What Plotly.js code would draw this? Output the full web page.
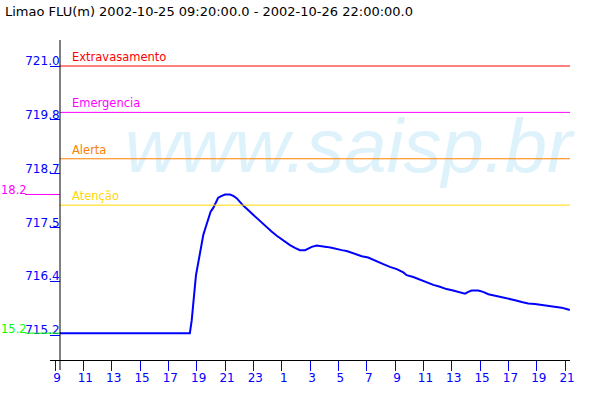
<!DOCTYPE html>
<html>
<head>
<meta charset="utf-8">
<script src="https://cdn.plot.ly/plotly-3.0.1.min.js"></script>
<style>html,body{margin:0;padding:0;background:#fff;}#chart{width:600px;height:400px;}</style>
</head>
<body>
<div id="chart"></div>
<script>
// ---- data ----
const times = [
  "2002-10-25 09:20","2002-10-25 10:00","2002-10-25 11:00","2002-10-25 12:00","2002-10-25 13:00",
  "2002-10-25 14:00","2002-10-25 15:00","2002-10-25 16:00","2002-10-25 17:00","2002-10-25 18:00",
  "2002-10-25 18:31","2002-10-25 18:39","2002-10-25 18:46","2002-10-25 18:53","2002-10-25 18:57",
  "2002-10-25 19:07","2002-10-25 19:14","2002-10-25 19:21","2002-10-25 19:28","2002-10-25 19:39",
  "2002-10-25 19:49","2002-10-25 19:59","2002-10-25 20:10","2002-10-25 20:22","2002-10-25 20:31",
  "2002-10-25 20:46","2002-10-25 21:00","2002-10-25 21:21","2002-10-25 21:35","2002-10-25 21:49",
  "2002-10-25 22:03","2002-10-25 22:17","2002-10-25 22:32","2002-10-25 22:53","2002-10-25 23:14",
  "2002-10-25 23:35","2002-10-25 23:56","2002-10-26 00:17","2002-10-26 00:39","2002-10-26 00:53",
  "2002-10-26 01:14","2002-10-26 01:35","2002-10-26 01:56","2002-10-26 02:17","2002-10-26 02:39",
  "2002-10-26 02:52","2002-10-26 03:07","2002-10-26 03:28","2002-10-26 03:49","2002-10-26 04:10",
  "2002-10-26 04:31","2002-10-26 04:53","2002-10-26 05:14","2002-10-26 05:35","2002-10-26 05:56",
  "2002-10-26 06:17","2002-10-26 06:39","2002-10-26 07:06","2002-10-26 07:42","2002-10-26 08:10",
  "2002-10-26 08:38","2002-10-26 09:07","2002-10-26 09:35","2002-10-26 09:49","2002-10-26 10:17",
  "2002-10-26 10:45","2002-10-26 11:14","2002-10-26 11:42","2002-10-26 12:10","2002-10-26 12:38",
  "2002-10-26 13:06","2002-10-26 13:35","2002-10-26 13:56","2002-10-26 14:10","2002-10-26 14:24",
  "2002-10-26 14:52","2002-10-26 15:13","2002-10-26 15:35","2002-10-26 16:03","2002-10-26 16:31",
  "2002-10-26 16:59","2002-10-26 17:28","2002-10-26 17:56","2002-10-26 18:24","2002-10-26 18:52",
  "2002-10-26 19:21","2002-10-26 19:49","2002-10-26 20:17","2002-10-26 20:45","2002-10-26 21:13",
  "2002-10-26 21:20"
];
const levels = [
  715.24,715.24,715.24,715.24,715.24,
  715.24,715.24,715.24,715.24,715.24,
  715.24,715.52,715.99,716.28,716.49,
  716.78,717.00,717.14,717.36,717.54,
  717.72,717.86,717.94,718.07,718.16,
  718.20,718.23,718.23,718.20,718.15,
  718.06,717.99,717.92,717.82,717.72,
  717.61,717.51,717.43,717.34,717.29,
  717.20,717.14,717.08,717.03,717.03,
  717.07,717.10,717.13,717.12,717.10,
  717.08,717.05,717.03,717.01,716.97,
  716.94,716.90,716.87,716.80,716.73,
  716.67,716.62,716.55,716.49,716.45,
  716.39,716.33,716.28,716.24,716.19,
  716.16,716.12,716.09,716.13,716.16,
  716.16,716.13,716.08,716.05,716.01,
  715.98,715.95,715.91,715.88,715.87,
  715.85,715.83,715.81,715.79,715.75,
  715.74
];
const thresholdNames  = ["Extravasamento", "Emergencia", "Alerta", "Atenção"];
const thresholdValues = [721.0, 720.0, 719.0, 718.0];
const thresholdColors = ["#ff0000", "#ff00ff", "#ff8000", "#ffd700"];
const yTickValues = [715.2, 716.36, 717.52, 718.68, 719.84, 721.0];
const yTickLabels = ["715.2", "716.4", "717.5", "718.7", "719.8", "721.0"];
const titleText = "Limao FLU(m) 2002-10-25 09:20:00.0 - 2002-10-26 22:00:00.0";
const watermark = "www.saisp.br";

// ---- layout constants ----
const plotL = 50, plotW = 520;
const axisPos = 10 / plotW;            // y axis drawn at x = 60px
const markL = -25 / plotW;             // min/max marker start (x = 25px)
const pageL = -plotL / plotW;          // x = 0px
const xRange = ["2002-10-25 08:38:50", "2002-10-26 21:20:42"];
const yRange = [714.661, 721.561];
function tickFont() { return {family: "DejaVu Sans", size: 12, color: "#0000ff"}; }
function labFont(c) { return {family: "DejaVu Sans", size: 11.5, color: c}; }

const maxV = Math.max(...levels), minV = Math.min(...levels);

const shapes = [];
const annotations = [];
thresholdValues.forEach((v, i) => {
  shapes.push({type: "line", xref: "x", yref: "y", x0: times[0], x1: xRange[1], y0: v, y1: v,
               line: {color: thresholdColors[i], width: 1}});
  annotations.push({xref: "paper", yref: "y", x: 20 / plotW, y: v, xanchor: "left", yanchor: "bottom",
                    text: thresholdNames[i], showarrow: false, font: labFont(thresholdColors[i])});
});
// max / min markers (the reference shows only the last digits, the hundreds are cut at the page edge)
[[maxV, "#ff00ff"], [minV, "#00ff00"]].forEach(([v, c]) => {
  shapes.push({type: "line", xref: "paper", yref: "y", x0: markL, x1: axisPos, y0: v, y1: v,
               line: {color: c, width: 1}});
  annotations.push({xref: "paper", yref: "y", x: pageL, y: v, xanchor: "left", yanchor: "bottom", yshift: -4,
                    xshift: 0, borderpad: 0,
                    text: v.toFixed(1).slice(-4), showarrow: false, font: labFont(c)});
});
// vertical axis line
shapes.push({type: "line", xref: "paper", yref: "paper", x0: axisPos, x1: axisPos, y0: -10 / 320, y1: 1,
             line: {color: "#000000", width: 1}});

const traces = [
  {x: ["2002-10-26 05:43"], y: [719.13], mode: "text", text: [watermark], textposition: "middle center",
   textfont: {family: "Liberation Sans", size: 76, style: "italic", color: "#def2fb"},
   hoverinfo: "skip", showlegend: false, cliponaxis: false},
  {x: times, y: levels, mode: "lines", line: {color: "#0000ff", width: 2}, showlegend: false}
];

const layout = {
  width: 600, height: 400,
  margin: {l: plotL, r: 30, t: 40, b: 40},
  paper_bgcolor: "#ffffff", plot_bgcolor: "#ffffff",
  showlegend: false,
  title: {text: titleText, x: 5 / 600, xanchor: "left", xref: "container",
          y: 1 - 11 / 400, yanchor: "middle", yref: "container",
          font: {family: "DejaVu Sans", size: 13, color: "#000000"}},
  xaxis: {type: "date", range: xRange, showgrid: false, zeroline: false,
          showline: true, linecolor: "#000000", linewidth: 1,
          tick0: "2002-10-25 09:00", dtick: 7200000, tickformat: "%-H",
          ticks: "outside", ticklen: 10, tickcolor: "#0000ff", tickwidth: 1,
          tickfont: tickFont(), ticklabelshift: 2, ticklabelstandoff: -3},
  yaxis: {range: yRange, anchor: "free", position: axisPos, showgrid: false, zeroline: false,
          showline: false, tickvals: yTickValues, ticktext: yTickLabels,
          ticks: "outside", ticklen: 10, tickcolor: "#0000ff", tickwidth: 1,
          tickfont: tickFont(), ticklabelshift: -5, ticklabelstandoff: -12},
  shapes: shapes,
  annotations: annotations
};

Plotly.newPlot("chart", traces, layout, {displayModeBar: false, staticPlot: true});
</script>
</body>
</html>
